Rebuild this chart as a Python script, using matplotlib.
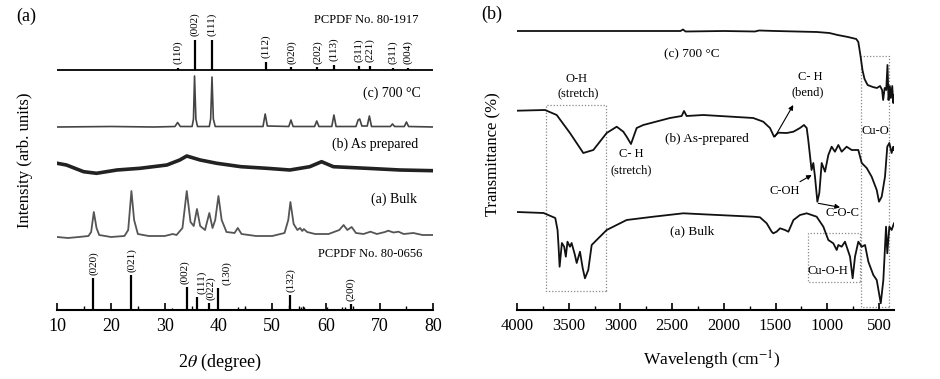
import numpy as np
import matplotlib.pyplot as plt

plt.rcParams['font.family'] = ['Liberation Serif', 'DejaVu Serif']
plt.rcParams['mathtext.fontset'] = 'stix'

# ---------- (a) XRD data ----------
# CuO reference sticks, PCPDF 80-1917
cuo_pos = [32.5, 35.55, 38.8, 48.8, 53.6, 58.4, 61.5, 66.2, 68.2, 72.5, 75.2]
cuo_h = [2.5, 30, 30, 8, 3, 3, 5.5, 4, 4, 2, 2]
cuo_lab = ['(110)', '(002)', '(111)', '(112)', '(020)', '(202)', '(113)',
           '(311)', '(221)', '(311)', '(004)']

# Cu(OH)2 reference sticks, PCPDF 80-0656
cuoh_pos = [16.7, 23.8, 34.1, 36.0, 38.2, 39.9, 53.4, 64.7]
cuoh_h = [32, 35, 23, 13, 7, 22, 15, 6]
cuoh_lab = ['(020)', '(021)', '(002)', '(111)', '(022)', '(130)', '(132)', '(200)']
cuoh_minor_pos = [31.4, 43.7, 45.0, 53.1, 55.3, 55.7, 56.0, 60.2, 63.0, 63.6]
cuoh_minor_h = [2, 3, 2, 5, 3, 4, 3, 3, 3, 3]

# 700 C pattern
t700 = [10, 20, 28, 31.9, 32.4, 32.9, 35.1, 35.35, 35.55, 35.8, 36.1, 38.3, 38.55,
        38.8, 39.05, 39.4, 45, 48.3, 48.7, 49.1, 53.1, 53.5, 53.9, 57.9, 58.3, 58.7,
        61.1, 61.5, 61.9, 65.6, 66.0, 66.3, 66.7, 67.7, 68.1, 68.5, 72.0, 72.4, 72.8,
        74.6, 75.0, 75.4, 80]
i700 = [0, 0.5, 0, 0.5, 4.5, 0.5, 0.5, 8, 51, 8, 0.5, 0.5, 8,
        50, 8, 0.5, 0.5, 0.5, 13, 1, 0.5, 7, 0.5, 0.5, 6, 0.5,
        0.5, 12, 0.5, 0.5, 7, 8, 1, 1, 11, 0.5, 0.5, 3, 0.5,
        0.5, 5, 0.5, 0]

# as-prepared pattern
tprep = [10, 11.7, 14.9, 17.3, 21.1, 25.4, 30.4, 32.8, 34.1, 36.6, 39.7, 44.2,
         49.0, 53.3, 57.0, 59.2, 61.4, 67.6, 73.8, 80]
iprep = [6.7, 5, -1.7, -3.3, 0, 1.7, 5, 10, 14, 10, 6.7, 3.3,
         1.7, 0, 3.3, 8.3, 3.3, 1.7, 0, -0.7]

# bulk pattern
tbulk = [10, 12, 14, 15.8, 16.3, 16.8, 17.3, 17.8, 20, 22.5, 23.2, 23.8, 24.3, 25,
         27, 30, 31.5, 32.2, 33.3, 34.1, 34.8, 35.4, 36.0, 36.6, 37.5, 38.3, 38.9,
         39.4, 40.0, 40.6, 41.5, 43.0, 43.6, 44.3, 47, 50, 52.3, 53.0, 53.4, 54.0,
         54.7, 55.2, 55.6, 55.9, 56.5, 58, 60.5, 62.5, 63.3, 64.0, 64.8, 65.6, 67,
         68.3, 69.5, 71.0, 71.6, 72.6, 73.5, 74.5, 76.3, 78, 80]
ibulk = [0, -1, 0, 1, 5, 25, 9, 2, 0, 1, 7, 46, 17, 3,
         1, 1, 3, 2, 9, 46, 15, 11, 28, 11, 7, 24, 9,
         17, 41, 17, 5, 4, 9, 3, 1, 1, 4, 17, 35, 13,
         7, 9, 6, 8, 5, 3, 3, 7, 12, 7, 10, 4, 3,
         5.3, 3, 5, 6.3, 4.5, 5.3, 3, 4, 2, 2]

# ---------- (b) FTIR data ----------
wn_c = [4000, 3000, 2420, 2395, 2370, 2000, 1700, 1660, 1500, 1100, 980, 900, 800,
        720, 700, 680, 660, 640, 610, 560, 520, 490, 470, 460, 445, 430, 418, 408,
        395, 385, 372, 362, 355]
tr_c = [0, 0, 0, 1.5, -0.5, 0, -0.5, 0.5, 0, -1, -2, -4, -6,
        -8, -11, -24, -39, -48, -54, -56, -57, -55, -59, -69, -57, -59, -34, -69,
        -55, -67, -55, -72, -64]

wn_b = [4000, 3729, 3616, 3488, 3359, 3262, 3133, 3036, 2972, 2940, 2898, 2843,
        2779, 2521, 2408, 2385, 2360, 2199, 1716, 1619, 1554, 1515, 1473, 1392,
        1327, 1264, 1225, 1199, 1184, 1152, 1135, 1119, 1096, 1077, 1054, 1022,
        990, 958, 926, 893, 861, 813, 764, 700, 667, 619, 571, 522, 500, 474,
        442, 420, 400, 378, 362, 355]
tr_b = [-0.7, 0, -5, -23, -43, -40, -23, -16.7, -21.7, -26.7, -34, -18,
        -15, -8, -6, -1, -6, -5, -8, -11.7, -18, -26.7, -22.7, -23,
        -21.7, -18, -15, -18, -30, -60, -53, -66.7, -91.7, -83, -53, -61.7,
        -45, -36.7, -41.7, -35, -41.7, -36.7, -40, -40, -53, -58, -66.7, -80, -91.7, -86.7,
        -66.7, -36.7, -33, -43, -36.7, -40]

wn_a = [4000, 3743, 3630, 3608, 3598, 3588, 3566, 3544, 3528, 3512, 3488, 3472,
        3440, 3423, 3391, 3365, 3343, 3311, 3278, 3230, 3133, 3004, 2940, 2682,
        2392, 2199, 1716, 1651, 1586, 1538, 1522, 1490, 1457, 1409, 1376, 1327,
        1264, 1199, 1103, 1038, 990, 942, 909, 893, 861, 829, 796, 780, 755, 732,
        700, 667, 635, 603, 555, 522, 483, 458, 432, 420, 400, 378, 355]
tr_a = [0, -1, -6, -18, -34.7, -54.7, -31, -34.7, -44.7, -29.7, -34.7, -31,
        -43, -51, -39.7, -56, -66.3, -58, -33, -28, -18, -11.3, -8, -4.7,
        -1.3, -2.3, -4.7, -5.3, -11.3, -19.7, -21.3, -19.7, -16.3, -18, -19.7, -8,
        -3, -1.3, -4.7, -14.7, -28, -31.3, -38, -33, -34.7, -29.7, -39.7, -44.7, -66.3, -44.7,
        -29.7, -34.7, -33, -49.7, -63, -68, -91.3, -68, -14.7, -41.3, -14.7, -18, -11.3]

fig = plt.figure(figsize=(9.4, 3.79), dpi=100)
W, H = 940.0, 379.0


def px_ax(l, r, t, b):
    return [l / W, 1 - b / H, (r - l) / W, (b - t) / H]


def style_axis(ax):
    for s in ['left', 'top', 'right']:
        ax.spines[s].set_visible(False)
    ax.spines['bottom'].set_linewidth(1.5)
    ax.set_yticks([])
    ax.tick_params(axis='x', which='major', direction='in', length=5, width=1.2, pad=6)
    ax.tick_params(axis='x', which='minor', direction='in', length=3, width=1.0)


# ---------- panel (a) ----------
ax1 = fig.add_axes(px_ax(57.3, 433.3, 0, 310))
ax1.set_xlim(10, 80)
ax1.set_ylim(0, 310)
style_axis(ax1)
ax1.set_xticks(range(10, 81, 10))
ax1.set_xticks(range(15, 80, 10), minor=True)
ax1.tick_params(axis='x', labelsize=13)

# CuO sticks
y0 = 240
ax1.plot([10, 80], [y0, y0], color='black', lw=1.3)
ax1.vlines(cuo_pos, y0, [y0 + h for h in cuo_h], color='black', lw=1.6)
for p, h, lab in zip(cuo_pos, cuo_h, cuo_lab):
    ax1.text(p, y0 + h + 3.5, lab, rotation=90, ha='center', va='bottom', fontsize=8)
ax1.text(77.3, 290, 'PCPDF No. 80-1917', ha='right', va='center', fontsize=9)

ax1.plot(t700, np.array(i700) + 183, color='#444444', lw=1.2)
ax1.text(77.7, 217, '(c) 700 °C', ha='right', va='center', fontsize=10)

ax1.plot(tprep, np.array(iprep) + 140, color='#222222', lw=2.6)
ax1.text(77.2, 166, '(b) As prepared', ha='right', va='center', fontsize=10)

ax1.plot(tbulk, np.array(ibulk) + 73, color='#555555', lw=1.3)
ax1.text(77.0, 111, '(a) Bulk', ha='right', va='center', fontsize=10)

# Cu(OH)2 sticks
ax1.vlines(cuoh_minor_pos, 0, cuoh_minor_h, color='black', lw=1.0)
ax1.vlines(cuoh_pos, 0, cuoh_h, color='black', lw=1.6)
lab_dx = [0, 0, -0.4, 0.9, 0.3, 1.7, 0, 0]
for p, h, lab, dx in zip(cuoh_pos, cuoh_h, cuoh_lab, lab_dx):
    ax1.text(p + dx, h + 3, lab, rotation=90, ha='center', va='bottom', fontsize=8)
ax1.text(77.9, 56, 'PCPDF No. 80-0656', ha='right', va='center', fontsize=9)

fig.text(220 / W, 1 - 362 / H, r'2$\theta$ (degree)', ha='center', va='center', fontsize=13)
fig.text(25 / W, 1 - 160 / H, 'Intensity (arb. units)', rotation=90,
         ha='center', va='center', fontsize=12)
fig.text(26 / W, 1 - 16 / H, '(a)', ha='center', va='center', fontsize=13)

# ---------- panel (b) ----------
ax2 = fig.add_axes(px_ax(517, 894, 0, 310))
ax2.set_xlim(4000, 355)
ax2.set_ylim(0, 310)
style_axis(ax2)
ax2.set_xticks(range(4000, 499, -500))
ax2.set_xticks(range(3750, 499, -500), minor=True)
ax2.tick_params(axis='x', labelsize=12)

ax2.plot(wn_c, np.array(tr_c) + 279, color='#111111', lw=1.3)
ax2.plot(wn_b, np.array(tr_b) + 200, color='#111111', lw=1.3)
ax2.plot(wn_a, np.array(tr_a) + 98, color='#111111', lw=1.3)

box_kw = dict(fill=False, ec='#888888', ls=(0, (1, 1.5)), lw=0.9)
ax2.add_patch(plt.Rectangle((3140, 19), 580, 186, **box_kw))
ax2.add_patch(plt.Rectangle((400, 2.7), 277, 251, **box_kw))
ax2.add_patch(plt.Rectangle((684, 27.7), 506, 49, **box_kw))

fs = 9
ax2.text(2311, 255.7, '(c) 700 °C', ha='center', va='center', fontsize=9.5)
ax2.text(3425, 231, 'O-H', ha='center', va='center', fontsize=fs)
ax2.text(3410, 217, '(stretch)', ha='center', va='center', fontsize=fs)
ax2.text(2898, 156, 'C- H', ha='center', va='center', fontsize=fs)
ax2.text(2898, 140, '(stretch)', ha='center', va='center', fontsize=fs)
ax2.text(2166, 170.7, '(b) As-prepared', ha='center', va='center', fontsize=9.5)
ax2.text(1167, 233.3, 'C- H', ha='center', va='center', fontsize=fs)
ax2.text(1193, 217.3, '(bend)', ha='center', va='center', fontsize=fs)
ax2.text(539, 179.3, 'Cu-O', ha='center', va='center', fontsize=fs)
ax2.text(1409, 119.3, 'C-OH', ha='center', va='center', fontsize=fs)
ax2.text(851, 96.7, 'C-O-C', ha='center', va='center', fontsize=fs)
ax2.text(2311, 78.3, '(a) Bulk', ha='center', va='center', fontsize=9.5)
ax2.text(990, 39.3, 'Cu-O-H', ha='center', va='center', fontsize=fs)

arr = dict(arrowstyle='-|>', color='black', lw=0.8, mutation_scale=7, shrinkA=0, shrinkB=0)
ax2.annotate('', xy=(1329, 205), xytext=(1506, 173.3), arrowprops=arr)
ax2.annotate('', xy=(1151, 135), xytext=(1264, 128.3), arrowprops=arr)
ax2.annotate('', xy=(877, 102.7), xytext=(1087, 106.7), arrowprops=arr)

fig.text(711.5 / W, 1 - 360 / H, 'Wavelength (cm$^{-1}$)', ha='center', va='center', fontsize=12.5)
fig.text(493 / W, 1 - 154 / H, 'Transmittance (%)', rotation=90,
         ha='center', va='center', fontsize=12)
fig.text(492 / W, 1 - 14 / H, '(b)', ha='center', va='center', fontsize=13)

fig.savefig('out.png', dpi=100)
